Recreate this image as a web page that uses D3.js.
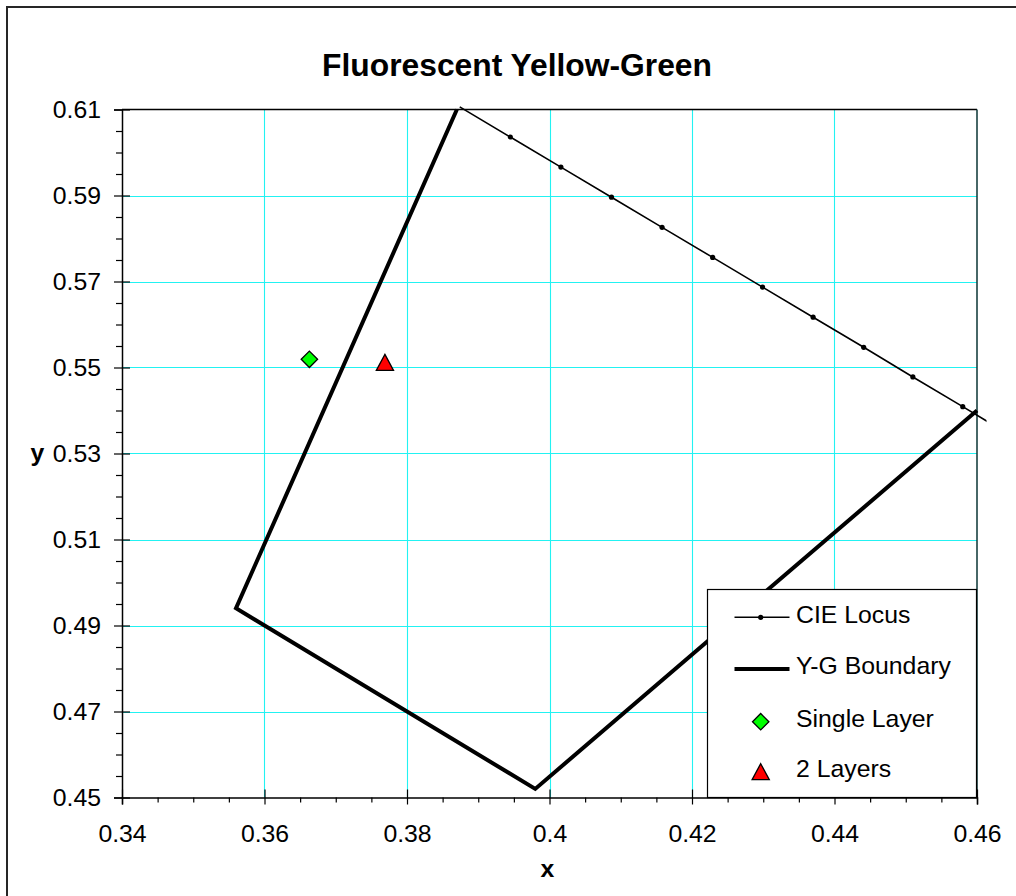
<!DOCTYPE html>
<html>
<head>
<meta charset="utf-8">
<script src="https://cdn.jsdelivr.net/npm/d3@7"></script>
<style>
  html, body { margin: 0; padding: 0; background: #ffffff; }
  svg { display: block; }
  text { font-family: "Liberation Sans", Arial, sans-serif; fill: #000; }
</style>
</head>
<body>
<svg id="chart" width="1016" height="896"></svg>
<script>
// ---------- data ----------
const title = "Fluorescent Yellow-Green";
const xLabel = "x";
const yLabel = "y";

// CIE spectral locus points (x, y) - 562 to 573 nm
const locusX = [0.3874, 0.3945, 0.4016, 0.4087, 0.4158, 0.4229, 0.4299, 0.4370, 0.4441, 0.4510, 0.4580, 0.4649];
const locusY = [0.6106, 0.6036, 0.5966, 0.5896, 0.5826, 0.5756, 0.5687, 0.5617, 0.5547, 0.5478, 0.5409, 0.5340];

// Yellow-green boundary vertices
const boundaryX = [0.387, 0.356, 0.398, 0.460];
const boundaryY = [0.610, 0.494, 0.452, 0.540];

// Measurements
const singleX = [0.3663];
const singleY = [0.5519];
const twoX = [0.3769];
const twoY = [0.5512];

const seriesNames = ["CIE Locus", "Y-G Boundary", "Single Layer", "2 Layers"];

const xMajorTicks = [0.34, 0.36, 0.38, 0.40, 0.42, 0.44, 0.46];
const yMajorTicks = [0.45, 0.47, 0.49, 0.51, 0.53, 0.55, 0.57, 0.59, 0.61];
const xMinorTicks = [0.345, 0.35, 0.355, 0.365, 0.37, 0.375, 0.385, 0.39, 0.395, 0.405, 0.41, 0.415, 0.425, 0.43, 0.435, 0.445, 0.45, 0.455];
const yMinorTicks = [0.455, 0.46, 0.465, 0.475, 0.48, 0.485, 0.495, 0.50, 0.505, 0.515, 0.52, 0.525, 0.535, 0.54, 0.545, 0.555, 0.56, 0.565, 0.575, 0.58, 0.585, 0.595, 0.60, 0.605];

// ---------- layout ----------
const L = 122, R = 977, T = 109.5, B = 797.5;
const svg = d3.select("#chart");
const x = d3.scaleLinear().domain([0.34, 0.46]).range([L, R]);
const y = d3.scaleLinear().domain([0.45, 0.61]).range([B, T]);
const fmt = d => String(+d.toFixed(3));
const px = v => Math.round(v) + 0.5;

// outer chart border
svg.append("path")
  .attr("d", "M7,900 V7 H1030")
  .attr("fill", "none").attr("stroke", "#262626").attr("stroke-width", 2);

// title
svg.append("text")
  .attr("x", 517).attr("y", 75.7)
  .attr("text-anchor", "middle")
  .style("font-size", "31.8px").style("font-weight", "bold")
  .text(title);

// gridlines
const grid = svg.append("g").attr("stroke", "#22f2f2").attr("stroke-width", 1.1);
grid.selectAll("line.v").data(xMajorTicks.slice(1, -1)).enter().append("line")
  .attr("x1", d => px(x(d))).attr("x2", d => px(x(d))).attr("y1", T).attr("y2", B);
grid.selectAll("line.h").data(yMajorTicks.slice(1, -1)).enter().append("line")
  .attr("x1", L).attr("x2", R).attr("y1", d => px(y(d))).attr("y2", d => px(y(d)));

// plot top/right border
svg.append("line").attr("x1", L).attr("x2", R).attr("y1", T).attr("y2", T)
  .attr("stroke", "#000").attr("stroke-width", 1.5);
svg.append("line").attr("x1", R).attr("x2", R).attr("y1", T).attr("y2", B)
  .attr("stroke", "#0a3535").attr("stroke-width", 1.5);

// axes
const yAxis = svg.append("g").attr("transform", `translate(${L},0)`)
  .call(d3.axisLeft(y).tickValues(yMajorTicks).tickFormat(fmt).tickSize(8).tickPadding(13));
const yMinor = svg.append("g").attr("transform", `translate(${L},0)`)
  .call(d3.axisLeft(y).tickValues(yMinorTicks).tickFormat("").tickSize(6));
const xAxis = svg.append("g").attr("transform", `translate(0,${B})`)
  .call(d3.axisBottom(x).tickValues(xMajorTicks).tickFormat(fmt).tickSize(7).tickPadding(20));
const xMinor = svg.append("g").attr("transform", `translate(0,${B})`)
  .call(d3.axisBottom(x).tickValues(xMinorTicks).tickFormat("").tickSize(5));

[yAxis, yMinor, xAxis, xMinor].forEach(g => {
  g.selectAll(".domain").attr("stroke", "#000").attr("stroke-width", 1.5);
  g.selectAll(".tick line").attr("stroke", "#000").attr("stroke-width", 1.2);
  g.selectAll("text").style("font-size", "24.8px").style("font-family", "'Liberation Sans', Arial, sans-serif").attr("fill", "#000");
});
yAxis.selectAll(".tick line").attr("x1", 8);
yAxis.selectAll(".tick text").attr("dy", "0.33em");
xAxis.selectAll(".tick line").attr("y1", -8);
xAxis.selectAll(".tick text").attr("dy", "0.71em");
yMinor.select(".domain").remove();
xMinor.select(".domain").remove();

// axis titles
svg.append("text").attr("x", 37.5).attr("y", 460.7).attr("text-anchor", "middle")
  .style("font-size", "24.8px").style("font-weight", "bold").text(yLabel);
svg.append("text").attr("x", 547.5).attr("y", 877.3).attr("text-anchor", "middle")
  .style("font-size", "24.8px").style("font-weight", "bold").text(xLabel);

// clip for locus line
svg.append("defs").append("clipPath").attr("id", "locusClip")
  .append("rect").attr("x", L - 12).attr("y", T - 8.5).attr("width", (R - L) + 21.5).attr("height", (B - T) + 17);

const line = d3.line().x(d => x(d[0])).y(d => y(d[1]));

// boundary
const boundary = boundaryX.map((v, i) => [v, boundaryY[i]]);
svg.append("path").datum(boundary).attr("d", line)
  .attr("fill", "none").attr("stroke", "#000").attr("stroke-width", 4).attr("stroke-linejoin", "miter");

// locus
const locus = locusX.map((v, i) => [v, locusY[i]]);
svg.append("path").datum(locus).attr("d", line).attr("clip-path", "url(#locusClip)")
  .attr("fill", "none").attr("stroke", "#000").attr("stroke-width", 1.6);
svg.selectAll("circle.locus").data(locus.filter(d => d[0] >= 0.34 && d[0] <= 0.46 && d[1] >= 0.45 && d[1] <= 0.61))
  .enter().append("circle").attr("class", "locus")
  .attr("cx", d => x(d[0])).attr("cy", d => y(d[1])).attr("r", 2.6).attr("fill", "#000");

// marker shapes
const diamond = (cx, cy, r) => `M${cx},${cy - r}L${cx + r},${cy}L${cx},${cy + r}L${cx - r},${cy}Z`;
const triangle = (cx, cy, h, w) => `M${cx},${cy - h}L${cx + w},${cy + h}L${cx - w},${cy + h}Z`;

const single = singleX.map((v, i) => [v, singleY[i]]);
svg.selectAll("path.single").data(single).enter().append("path")
  .attr("d", d => diamond(x(d[0]), y(d[1]), 8.2))
  .attr("fill", "#00ff00").attr("stroke", "#000").attr("stroke-width", 1.3);

const two = twoX.map((v, i) => [v, twoY[i]]);
svg.selectAll("path.two").data(two).enter().append("path")
  .attr("d", d => triangle(x(d[0]), y(d[1]), 8, 8.6))
  .attr("fill", "#ff0000").attr("stroke", "#000").attr("stroke-width", 1.3);

// legend
const lg = svg.append("g");
lg.append("rect").attr("x", 707.5).attr("y", 589.5).attr("width", 269).attr("height", 208)
  .attr("fill", "#fff").attr("stroke", "#000").attr("stroke-width", 1.2);
const rows = [617.3, 669, 721.7, 771.7];
const lx1 = 734.5, lx2 = 789.5, lmx = 760.7, ltx = 796;
lg.append("line").attr("x1", lx1).attr("x2", lx2).attr("y1", rows[0]).attr("y2", rows[0])
  .attr("stroke", "#000").attr("stroke-width", 1.6);
lg.append("circle").attr("cx", lmx).attr("cy", rows[0]).attr("r", 2.6).attr("fill", "#000");
lg.append("line").attr("x1", lx1).attr("x2", lx2).attr("y1", rows[1]).attr("y2", rows[1])
  .attr("stroke", "#000").attr("stroke-width", 4);
lg.append("path").attr("d", diamond(lmx, rows[2], 8.2))
  .attr("fill", "#00ff00").attr("stroke", "#000").attr("stroke-width", 1.3);
lg.append("path").attr("d", triangle(lmx, rows[3], 8, 8.6))
  .attr("fill", "#ff0000").attr("stroke", "#000").attr("stroke-width", 1.3);
const textBase = [622.7, 674.3, 726.7, 776.7];
lg.selectAll("text").data(seriesNames).enter().append("text")
  .attr("x", ltx).attr("y", (d, i) => textBase[i])
  .style("font-size", "24.8px").text(d => d);
</script>
</body>
</html>
